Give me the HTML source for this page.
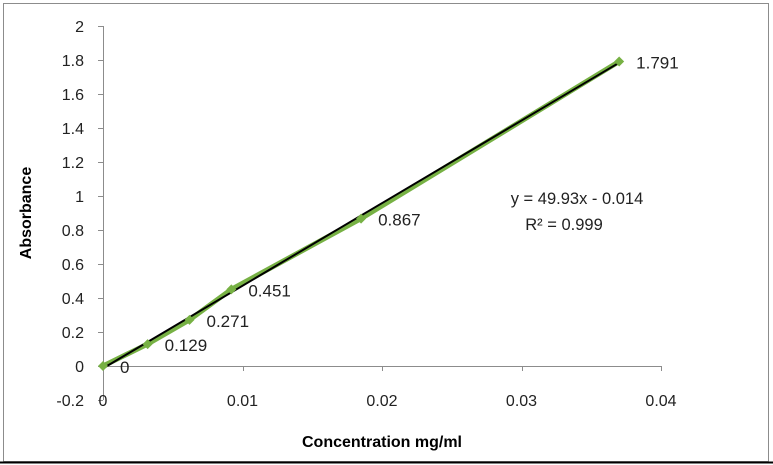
<!DOCTYPE html>
<html><head><meta charset="utf-8"><style>
html,body{margin:0;padding:0;background:#fff;}
svg{display:block;font-family:"Liberation Sans",sans-serif;}
</style></head><body>
<svg id="chart" width="773" height="465">
<rect x="3.5" y="3.5" width="765" height="458" fill="#fff" stroke="#8c8c8c"/>
<line x1="0" y1="462.5" x2="773" y2="462.5" stroke="#000" stroke-width="2"/>
<g id="axes"></g>
<g id="marks"></g>
<text x="577" y="204" font-size="16.5" text-anchor="middle" fill="#222">y = 49.93x - 0.014</text>
<text x="564" y="230" font-size="16.5" text-anchor="middle" fill="#222">R² = 0.999</text>
<text x="382" y="447" font-size="16" font-weight="bold" text-anchor="middle" fill="#000">Concentration mg/ml</text>
<text transform="translate(31,213) rotate(-90)" font-size="16" font-weight="bold" text-anchor="middle" fill="#000">Absorbance</text>
</svg>
<script>
const xValues=[0,0.0032,0.0062,0.0092,0.0185,0.037];
const yValues=[0,0.129,0.271,0.451,0.867,1.791];
const pointLabels=["0","0.129","0.271","0.451","0.867","1.791"];
const yTicks=[-0.2,0,0.2,0.4,0.6,0.8,1,1.2,1.4,1.6,1.8,2];
const yTickLabels=["-0.2","0","0.2","0.4","0.6","0.8","1","1.2","1.4","1.6","1.8","2"];
const xTicks=[0,0.01,0.02,0.03,0.04];
const xTickLabels=["0","0.01","0.02","0.03","0.04"];
const slope=48.6, intercept=-0.014;
const NS="http://www.w3.org/2000/svg";
const sx=v=>103+v/0.04*558;
const sy=v=>366-v/0.2*34;
function mk(tag,attrs,parent,text){const e=document.createElementNS(NS,tag);for(const k in attrs)e.setAttribute(k,attrs[k]);if(text!==undefined)e.textContent=text;parent.appendChild(e);return e;}
const axes=document.getElementById('axes'), marks=document.getElementById('marks');
let yl=mk('line',{x1:103.5,y1:sy(2),x2:103.5,y2:sy(-0.2),stroke:'#8c8c8c'},axes);


let xl=mk('line',{x1:103,y1:366.5,x2:sx(0.04),y2:366.5,stroke:'#8c8c8c'},axes);


yTicks.forEach((t,i)=>{
 mk('line',{x1:98,y1:Math.round(sy(t))+0.5,x2:103,y2:Math.round(sy(t))+0.5,stroke:'#8c8c8c'},axes);
 const tx=mk('text',{x:84,y:sy(t)+6,'font-size':16,'text-anchor':'end',fill:'#222'},axes,yTickLabels[i]);
 
 
});
xTicks.forEach((t,i)=>{
 mk('line',{x1:Math.round(sx(t))+0.5,y1:366,x2:Math.round(sx(t))+0.5,y2:371,stroke:'#8c8c8c'},axes);
 const tx=mk('text',{x:sx(t),y:406,'font-size':16,'text-anchor':'middle',fill:'#222'},axes,xTickLabels[i]);
 
 
});
let pts=xValues.map((x,i)=>sx(x)+','+sy(yValues[i])).join(' ');
const ser=mk('polyline',{points:pts,fill:'none',stroke:'#77b144','stroke-width':5},marks);


const x0=0,x1=xValues[xValues.length-1];
const tl=mk('line',{x1:sx(x0),y1:sy(slope*x0+intercept),x2:sx(x1),y2:sy(slope*x1+intercept),stroke:'#000','stroke-width':2},marks);


xValues.forEach((x,i)=>{
 const cx=sx(x),cy=sy(yValues[i]);
 const m=mk('polygon',{points:`${cx},${cy-5} ${cx+5},${cy} ${cx},${cy+5} ${cx-5},${cy}`,fill:'#77b144'},marks);
 
 
 const l=mk('text',{x:cx+17,y:cy+7,'font-size':17,fill:'#222'},marks,pointLabels[i]);
 
 
});
</script>
</body></html>
